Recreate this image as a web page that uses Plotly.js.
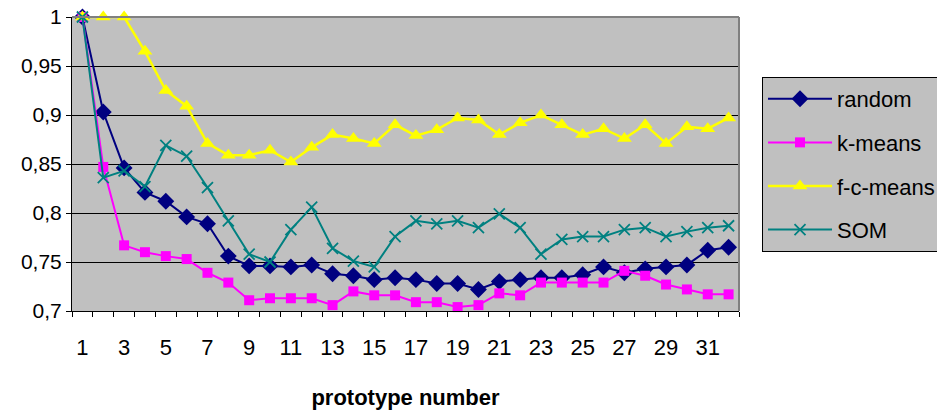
<!DOCTYPE html>
<html>
<head>
<meta charset="utf-8">
<script src="https://cdn.plot.ly/plotly-3.0.1.min.js"></script>
<style>
  html, body { margin: 0; padding: 0; background: #ffffff; }
  #chart { width: 937px; height: 411px; }
</style>
</head>
<body>
<div id="chart"></div>
<script>
// Prototype numbers 1..32
const prototypes = Array.from({length: 32}, (_, i) => i + 1);

const randomVals = [1.000, 0.903, 0.846, 0.821, 0.812, 0.796, 0.789, 0.756, 0.746, 0.746,
                    0.745, 0.747, 0.738, 0.736, 0.732, 0.734, 0.732, 0.728, 0.728, 0.722,
                    0.730, 0.732, 0.734, 0.734, 0.737, 0.745, 0.739, 0.743, 0.745, 0.747,
                    0.762, 0.765];

const kmeansVals = [1.000, 0.847, 0.767, 0.760, 0.756, 0.753, 0.739, 0.729, 0.711, 0.713,
                    0.713, 0.713, 0.706, 0.720, 0.716, 0.716, 0.709, 0.709, 0.704, 0.706,
                    0.718, 0.716, 0.729, 0.729, 0.729, 0.729, 0.741, 0.736, 0.727, 0.722,
                    0.717, 0.717];

const fcmeansVals = [1.000, 1.000, 1.000, 0.965, 0.925, 0.909, 0.871, 0.859, 0.859, 0.864,
                     0.852, 0.867, 0.880, 0.876, 0.871, 0.890, 0.879, 0.885, 0.897, 0.895,
                     0.880, 0.892, 0.900, 0.890, 0.880, 0.886, 0.876, 0.890, 0.871, 0.888,
                     0.886, 0.897];

const somVals = [1.000, 0.836, 0.843, 0.827, 0.869, 0.858, 0.826, 0.792, 0.758, 0.750,
                 0.783, 0.806, 0.764, 0.751, 0.745, 0.776, 0.792, 0.789, 0.792, 0.785,
                 0.799, 0.785, 0.758, 0.773, 0.776, 0.776, 0.783, 0.785, 0.776, 0.781,
                 0.785, 0.787];

const xTickLabels = [1, 3, 5, 7, 9, 11, 13, 15, 17, 19, 21, 23, 25, 27, 29, 31];

function series(name, y, color, symbol, msize, lw, group) {
  const open = symbol.indexOf('open') >= 0;
  return {
    type: 'scatter', mode: 'lines+markers', name: name,
    x: prototypes, y: y, legendgroup: group,
    line: {color: color, width: lw},
    marker: {symbol: symbol, size: msize, color: color,
             line: {color: color, width: open ? 1.8 : 0}},
    cliponaxis: false
  };
}

const traces = [
  series('random', randomVals, '#000080', 'diamond', 13, 2, 'g1'),
  series('k-means', kmeansVals, '#ff00ff', 'square', 10, 2, 'g2'),
  series('f-c-means', fcmeansVals, '#ffff00', 'triangle-up', 13, 2.5, 'g3'),
  series('SOM', somVals, '#008080', 'x-thin-open', 11, 2, 'g4')
];

const layout = {
  width: 937, height: 411,
  margin: {l: 72, r: 198, t: 17, b: 100, autoexpand: false},
  paper_bgcolor: '#ffffff',
  plot_bgcolor: '#c0c0c0',
  separators: ', ',
  font: {family: 'Liberation Sans, Arial, sans-serif', color: '#000000', size: 21},
  showlegend: true,
  legend: {
    x: 1.0345, xanchor: 'left', y: 0.796, yanchor: 'top',
    bgcolor: '#c0c0c0', bordercolor: '#000000', borderwidth: 1,
    font: {size: 22, family: 'Liberation Sans, Arial, sans-serif'},
    traceorder: 'grouped', tracegroupgap: 12, itemwidth: 64
  },
  xaxis: {
    range: [0.5, 32.5],
    tickmode: 'array', tickvals: xTickLabels, ticktext: xTickLabels.map(String),
    ticks: '', showgrid: false, zeroline: false,
    showline: true, linecolor: '#000000', linewidth: 1,
    tickfont: {size: 22}, ticklabelstandoff: 17,
    minor: {tickmode: 'linear', tick0: 0.5, dtick: 1, ticks: 'outside',
            ticklen: 5, tickcolor: '#000000', showgrid: false},
    title: {text: 'prototype number', font: {size: 22, weight: 'bold'}, standoff: 30}
  },
  yaxis: {
    range: [0.7, 1.0], dtick: 0.05, tick0: 0.7,
    ticks: 'outside', ticklen: 5, tickcolor: '#000000',
    showgrid: true, gridcolor: '#000000', gridwidth: 1,
    zeroline: false, showline: true, linecolor: '#000000', linewidth: 1,
    tickfont: {size: 21}
  },
  shapes: [
    {type: 'line', xref: 'paper', yref: 'paper', x0: 0, x1: 1, y0: 1, y1: 1,
     line: {color: '#808080', width: 2}},
    {type: 'line', xref: 'paper', yref: 'paper', x0: 1, x1: 1, y0: 0, y1: 1,
     line: {color: '#808080', width: 2}}
  ]
};

Plotly.newPlot('chart', traces, layout, {displayModeBar: false, staticPlot: true});
</script>
</body>
</html>
